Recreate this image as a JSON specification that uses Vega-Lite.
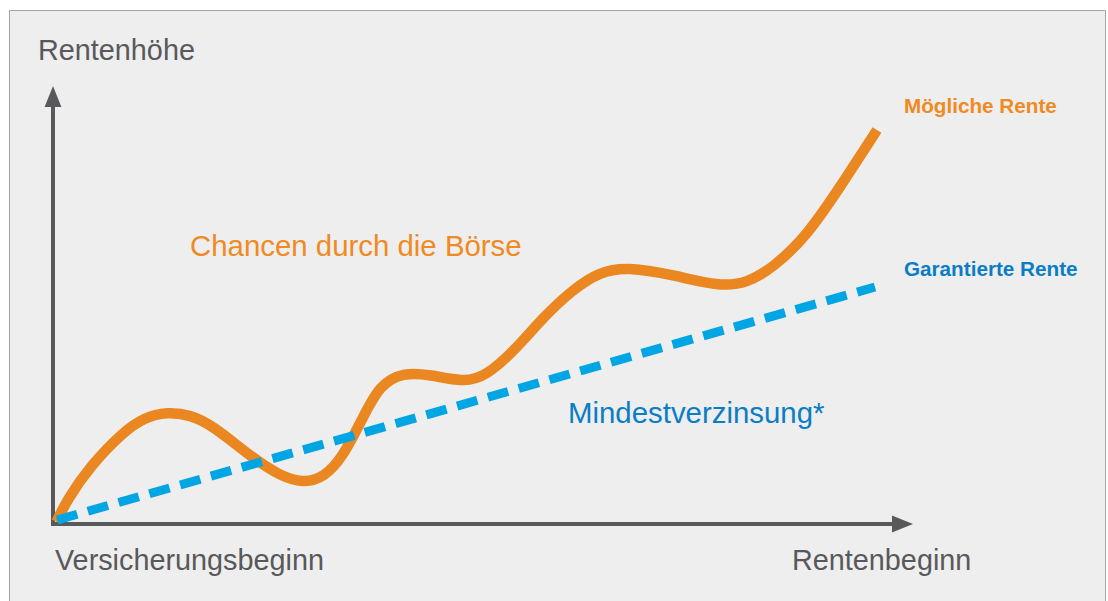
{
  "$schema": "https://vega.github.io/schema/vega-lite/v6.json",
  "autosize": {"type": "none"},
  "width": 1096,
  "height": 600,
  "padding": {"left": 9, "top": 10, "right": 3, "bottom": 0},
  "background": "#ffffff",
  "config": {
    "view": {"fill": "#eeeeee", "stroke": "#a3a3a3", "strokeWidth": 1},
    "font": "Liberation Sans"
  },
  "datasets": {
    "moeglich": [
      {"t": 0.4, "v": 0.5},
      {"t": 1.63, "v": 5.48},
      {"t": 4.3, "v": 13.2},
      {"t": 8.14, "v": 21.0},
      {"t": 10.6, "v": 24.3},
      {"t": 13.26, "v": 25.6},
      {"t": 16.0, "v": 24.9},
      {"t": 18.5, "v": 22.6},
      {"t": 23.26, "v": 15.0},
      {"t": 26.4, "v": 11.0},
      {"t": 29.07, "v": 9.36},
      {"t": 31.5, "v": 10.6},
      {"t": 33.72, "v": 15.3},
      {"t": 36.05, "v": 24.43},
      {"t": 38.02, "v": 31.8},
      {"t": 40.7, "v": 34.6},
      {"t": 43.84, "v": 34.1},
      {"t": 47.67, "v": 32.4},
      {"t": 50.3, "v": 33.6},
      {"t": 53.95, "v": 40.2},
      {"t": 57.0, "v": 47.2},
      {"t": 60.47, "v": 53.6},
      {"t": 63.6, "v": 57.6},
      {"t": 66.74, "v": 58.7},
      {"t": 72.09, "v": 56.9},
      {"t": 77.5, "v": 54.2},
      {"t": 80.7, "v": 55.0},
      {"t": 83.72, "v": 58.5},
      {"t": 87.67, "v": 65.8},
      {"t": 91.51, "v": 76.9},
      {"t": 95.81, "v": 89.95}
    ],
    "garantiert": [
      {"t": 0.47, "v": 0.91},
      {"t": 95.58, "v": 54.11}
    ],
    "yachse": [
      {"t": 0, "v": -0.46, "t2": 0, "v2": 95.2}
    ],
    "xachse": [
      {"t": -0.23, "v": 0, "t2": 97.56, "v2": 0}
    ],
    "ypfeil": [{"t": 0, "v": 97.6}],
    "xpfeil": [{"t": 98.78, "v": 0}],
    "achsentext": [
      {"t": -1.744, "v": 105.94, "label": "Rentenhöhe"},
      {"t": 0.233, "v": -10.5, "label": "Versicherungsbeginn"},
      {"t": 85.93, "v": -10.5, "label": "Rentenbeginn"}
    ],
    "orangetext": [{"t": 15.93, "v": 61.19, "label": "Chancen durch die Börse"}],
    "blautext": [{"t": 59.88, "v": 23.06, "label": "Mindestverzinsung*"}],
    "orangelabel": [{"t": 98.95, "v": 93.84, "label": "Mögliche Rente"}],
    "blaulabel": [{"t": 98.95, "v": 56.62, "label": "Garantierte Rente"}]
  },
  "encoding": {
    "x": {"field": "t", "type": "quantitative", "scale": {"domain": [-5.116, 122.326], "nice": false, "zero": false}, "axis": null},
    "y": {"field": "v", "type": "quantitative", "scale": {"domain": [-19.63, 117.35], "nice": false, "zero": false}, "axis": null}
  },
  "layer": [
    {
      "data": {"name": "yachse"},
      "mark": {"type": "rule", "color": "#58595b", "strokeWidth": 4, "strokeCap": "butt"},
      "encoding": {"x2": {"field": "t2"}, "y2": {"field": "v2"}}
    },
    {
      "data": {"name": "xachse"},
      "mark": {"type": "rule", "color": "#58595b", "strokeWidth": 4, "strokeCap": "butt"},
      "encoding": {"x2": {"field": "t2"}, "y2": {"field": "v2"}}
    },
    {
      "data": {"name": "ypfeil"},
      "mark": {"type": "point", "shape": "M0,-1L-0.8,1L0.8,1Z", "size": 441, "filled": true, "opacity": 1, "color": "#58595b"}
    },
    {
      "data": {"name": "xpfeil"},
      "mark": {"type": "point", "shape": "M1,0L-1,-0.8L-1,0.8Z", "size": 441, "filled": true, "opacity": 1, "color": "#58595b"}
    },
    {
      "data": {"name": "moeglich"},
      "mark": {"type": "line", "color": "#ea8720", "strokeWidth": 10.5, "interpolate": "basis", "strokeCap": "butt", "strokeJoin": "round"}
    },
    {
      "data": {"name": "garantiert"},
      "mark": {"type": "line", "color": "#00a5e3", "strokeWidth": 9, "strokeDash": [21, 11], "strokeCap": "butt"}
    },
    {
      "data": {"name": "achsentext"},
      "mark": {"type": "text", "align": "left", "baseline": "alphabetic", "fontSize": 28.8, "color": "#58595b"},
      "encoding": {"text": {"field": "label"}}
    },
    {
      "data": {"name": "orangetext"},
      "mark": {"type": "text", "align": "left", "baseline": "alphabetic", "fontSize": 29.4, "color": "#f08a22"},
      "encoding": {"text": {"field": "label"}}
    },
    {
      "data": {"name": "blautext"},
      "mark": {"type": "text", "align": "left", "baseline": "alphabetic", "fontSize": 29.4, "color": "#0b7dc5"},
      "encoding": {"text": {"field": "label"}}
    },
    {
      "data": {"name": "orangelabel"},
      "mark": {"type": "text", "align": "left", "baseline": "alphabetic", "fontSize": 20.7, "fontWeight": "bold", "color": "#f08a22"},
      "encoding": {"text": {"field": "label"}}
    },
    {
      "data": {"name": "blaulabel"},
      "mark": {"type": "text", "align": "left", "baseline": "alphabetic", "fontSize": 20.7, "fontWeight": "bold", "color": "#0b7dc5"},
      "encoding": {"text": {"field": "label"}}
    }
  ]
}
